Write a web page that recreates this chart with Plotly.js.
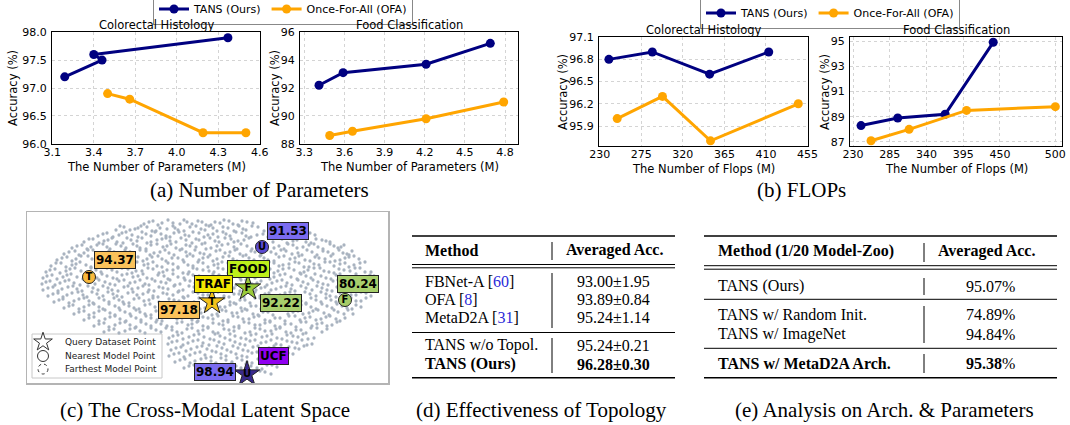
<!DOCTYPE html>
<html><head><meta charset="utf-8">
<script src="https://cdn.plot.ly/plotly-3.0.1.min.js"></script>
<style>html,body{margin:0;padding:0;background:#fff}#chart{width:1070px;height:425px}</style>
</head><body><div id="chart"></div>
<script>
// ---------- (a) Number of parameters ----------
const paramsColorectalTansX = [3.19, 3.46, 3.40, 4.37];
const paramsColorectalTansY = [97.2, 97.5, 97.6, 97.9];
const paramsColorectalOfaX = [3.50, 3.66, 4.19, 4.50];
const paramsColorectalOfaY = [96.9, 96.8, 96.2, 96.2];
const paramsFoodTansX = [3.41, 3.59, 4.21, 4.69];
const paramsFoodTansY = [92.2, 93.1, 93.7, 95.2];
const paramsFoodOfaX = [3.49, 3.66, 4.21, 4.79];
const paramsFoodOfaY = [88.6, 88.9, 89.8, 91.0];
// ---------- (b) FLOPs ----------
const flopsColorectalTansX = [240, 287, 349, 413];
const flopsColorectalTansY = [96.8, 96.9, 96.6, 96.9];
const flopsColorectalOfaX = [249, 298, 350, 445];
const flopsColorectalOfaY = [96.0, 96.3, 95.7, 96.2];
const flopsFoodTansX = [242, 297, 368, 440];
const flopsFoodTansY = [88.3, 88.9, 89.2, 94.9];
const flopsFoodOfaX = [257, 314, 400, 533];
const flopsFoodOfaY = [87.1, 88.0, 89.5, 89.8];
const flopsFoodTickVals = [230, 285, 340, 395, 450, 533];
const flopsFoodTickText = ['230', '285', '340', '395', '450', '500'];
const seriesNames = ['TANS (Ours)', 'Once-For-All (OFA)'];
const panelTitles = ['Colorectal Histology', 'Food Classification', 'Colorectal Histology', 'Food Classification'];

// ---------- (c) latent space (embedding coords) ----------
const cloudPtsA = [
[117,12],[126,9],[135,11],[141,8],[153,12],[160,10],[171,9],[179,13],[188,10],[197,8],[206,12],[215,9],[226,11],
[89,18],[97,15],[108,17],[114,14],[125,19],[133,16],[146,14],[151,18],[163,15],[174,17],[182,14],[190,19],[201,16],[212,14],[219,18],[231,15],[243,17],[250,14],[262,18],
[71,24],[80,21],[92,23],[99,20],[111,25],[119,22],[128,20],[139,24],[147,21],[158,23],[166,20],[177,25],[186,22],[196,20],[203,24],[215,21],[224,25],[236,22],[248,20],[256,24],[268,21],[277,25],[288,23],
[57,30],[66,27],[77,29],[85,26],[96,31],[104,28],[115,26],[124,30],[135,27],[143,29],[154,26],[165,31],[172,28],[183,26],[192,30],[204,27],[211,29],[222,26],[246,30],[255,27],[266,29],[273,26],[284,31],[295,28],[303,30],
[45,36],[55,33],[64,35],[76,32],[83,37],[94,34],[106,32],[113,36],[124,33],[136,35],[144,32],[155,37],[163,34],[175,32],[184,36],[195,33],[207,35],[214,32],[225,37],[252,34],[261,32],[270,36],[282,33],[291,35],[303,32],[311,36],[317,33],
[37,42],[48,39],[57,41],[66,38],[78,43],[87,40],[98,38],[107,42],[119,39],[127,41],[138,38],[147,43],[159,40],[168,38],[177,42],[189,39],[198,41],[208,38],[219,43],[228,40],[240,38],[249,42],[259,39],[271,41],[280,38],[290,43],[301,40],[312,38],[320,42],[325,39],
[30,48],[40,45],[49,47],[61,44],[70,49],[79,46],[91,44],[99,48],[111,45],[120,47],[131,44],[139,49],[151,46],[160,44],[172,48],[181,45],[190,47],[202,44],[210,49],[222,46],[233,44],[241,48],[252,45],[263,47],[272,44],[283,49],[292,46],[304,44],[313,48],[322,45],[332,47],
[24,54],[34,51],[45,53],[53,50],[64,55],[74,52],[86,50],[94,54],[104,51],[117,53],[126,50],[135,55],[146,52],[157,50],[166,54],[176,51],[187,53],[195,50],[206,55],[217,52],[226,50],[238,54],[247,51],[256,53],[268,50],[277,55],[287,52],[298,50],[307,54],[318,51],[327,53],[338,50],
[19,60],[28,57],[39,59],[48,56],[60,61],[69,58],[80,56],[90,60],[101,57],[109,59],[121,56],[132,61],[140,58],[151,56],[162,60],[170,57],[182,59],[191,56],[201,61],[212,58],[220,56],[231,60],[243,57],[251,59],[262,56],[273,61],[281,58],[293,56],[302,60],[312,57],[323,59],[333,56],[344,60],
[16,66],[25,63],[36,65],[44,62],[56,67],[66,64],[75,62],[86,66],[95,63],[106,65],[116,62],[125,67],[137,64],[146,62],[157,66],[166,63],[178,65],[186,62],[197,67],[208,64],[217,62],[228,66],[239,63],[247,65],[258,62],[270,67],[279,64],[288,62],[299,66],[309,63],[318,65],[329,62],[338,67],[347,64],
[15,72],[23,69],[33,71],[42,68],[53,73],[63,70],[72,68],[83,72],[92,69],[103,71],[113,68],[122,73],[134,70],[143,68],[153,72],[163,69],[174,71],[183,68],[194,73],[204,70],[214,68],[225,72],[234,69],[245,71],[255,68],[265,73],[276,70],[286,68],[296,72],[306,69],[315,71],[326,68],[335,73],[344,70],[350,68],
[16,78],[26,75],[35,77],[46,74],[55,79],[66,76],[76,74],[85,78],[97,75],[105,77],[116,74],[127,79],[136,76],[147,74],[156,78],[167,75],[177,77],[187,74],[198,79],[207,76],[218,74],[229,78],[238,75],[249,77],[259,74],[268,79],[279,76],[290,74],[300,78],[310,75],[320,77],[330,74],[340,79],[349,76],
[21,84],[31,81],[40,83],[51,80],[60,85],[70,82],[81,80],[90,84],[101,81],[110,83],[121,80],[131,85],[140,82],[151,80],[161,84],[171,81],[181,83],[191,80],[202,85],[212,82],[222,80],[233,84],[242,81],[253,83],[263,80],[272,85],[283,82],[294,80],[303,84],[313,81],[324,83],[334,80],[344,84],
[27,90],[36,87],[47,89],[57,86],[66,91],[77,88],[87,86],[96,90],[107,87],[117,89],[126,86],[137,91],[147,88],[157,86],[167,90],[176,87],[188,89],[197,86],[207,91],[218,88],[228,86],[238,90],[247,87],[259,89],[268,86],[279,91],[289,88],[299,86],[309,90],[319,87],[329,89],[339,86],
[37,96],[46,93],[57,95],[67,92],[76,97],[88,94],[97,92],[107,96],[118,93],[128,95],[137,92],[148,97],[158,94],[168,92],[178,96],[187,93],[198,95],[209,92],[218,97],[229,94],[239,92],[249,96],[258,93],[270,95],[279,92],[289,97],[300,94],[310,92],[320,96],[329,93],[334,95],
[47,102],[57,99],[67,101],[78,98],[88,103],[98,100],[109,98],[118,102],[129,99],[139,101],[148,98],[159,103],[169,100],[180,98],[190,102],[199,99],[210,101],[220,98],[231,103],[241,100],[250,98],[261,102],[271,99],[282,101],[291,98],[302,103],[311,100],[321,98],[326,102],
[57,108],[67,105],[78,107],[88,104],[99,109],[109,106],[119,104],[130,108],[139,105],[150,107],[160,104],[171,109],[181,106],[191,104],[201,108],[211,105],[222,107],[232,104],[243,109],[253,106],[262,104],[273,108],[283,105],[294,107],[303,104],[313,109],[318,106],
[67,114],[77,111],[88,113],[98,110],[109,115],[119,112],[129,110],[140,114],[150,111],[161,113],[170,110],[181,115],[192,112],[201,110],[212,114],[222,111],[233,113],[243,110],[253,115],[264,112],[274,110],[285,114],[295,111],[305,113],[310,110],
[77,120],[87,117],[98,119],[108,116],[118,121],[129,118],[139,116],[150,120],[160,117],[171,119],[181,116],[191,121],[202,118],[212,116],[223,120],[233,117],[244,119],[253,116],[264,121],[274,118],[284,116],[295,120],[300,117],
[142,126],[151,123],[162,125],[172,122],[183,127],[193,124],[203,122],[214,126],[224,123],[235,125],[245,122],[255,127],[266,124],[276,122],[287,126],
[141,132],[150,129],[161,131],[171,128],[182,133],[192,130],[203,128],[213,132],[223,129],[234,131],[244,128],[254,133],[265,130],[275,128],[285,132],
[144,138],[154,135],[164,137],[175,134],[185,139],[195,136],[206,134],[216,138],[226,135],[237,137],[247,134],[257,139],[268,136],[277,134],
[142,144],[152,141],[163,143],[173,140],[184,145],[194,142],[204,140],[215,144],[225,141],[236,143],[246,140],[256,145],[266,142],
[148,150],[158,147],[168,149],[179,146],[189,151],[199,148],[210,146],[220,150],[231,147],[241,149],[251,146],[257,150],
[157,156],[167,153],[178,155],[188,152],[198,157],[209,154],[219,152],[230,156],[240,153],[250,155],
[170,161],[181,159],[192,163],[204,160],[233,159],[244,162]
];
const cloudPtsB = [
[122,10],[131,13],[146,11],[157,8],[165,12],[175,10],[184,13],[193,11],[202,9],[211,13],[220,10],
[93,14],[103,18],[111,16],[120,15],[129,19],[140,17],[148,16],[157,19],[169,14],[178,18],[186,16],[196,15],[207,19],[216,17],[225,14],[237,19],[246,16],[256,15],
[76,22],[86,25],[95,21],[105,23],[115,20],[124,24],[134,22],[143,25],[152,20],[162,24],[172,21],[181,23],[191,25],[199,22],[209,20],[219,24],[230,23],[241,25],[252,22],[262,20],[272,23],[283,21],
[62,27],[72,31],[81,28],[90,30],[100,26],[110,29],[120,31],[130,28],[139,26],[149,30],[159,28],[169,27],[178,31],[188,29],[198,26],[207,30],[217,28],[250,26],[260,31],[270,28],[279,30],[289,27],[299,29],
[50,34],[60,37],[70,33],[80,35],[89,32],[99,36],[110,34],[119,37],[130,32],[140,34],[149,36],[159,33],[169,35],[179,37],[190,34],[201,32],[210,37],[220,34],[230,33],[247,36],[257,37],[266,33],[276,35],[287,32],[296,37],[307,34],[314,35],
[42,40],[52,43],[61,38],[71,41],[82,39],[92,42],[103,40],[113,38],[123,43],[133,40],[142,41],[153,38],[163,42],[173,41],[183,43],[193,38],[203,40],[213,42],[224,39],[234,43],[244,40],[254,38],[265,42],[275,43],[285,40],[296,39],[306,42],[316,41],[322,43],
[35,46],[45,49],[54,44],[65,47],[75,45],[85,48],[95,46],[105,44],[116,49],[125,45],[135,47],[145,46],[156,48],[166,44],[176,46],[186,49],[196,45],[206,47],[216,44],[227,48],[237,46],[247,49],[257,44],[268,46],[278,48],[288,45],[298,47],[308,49],[318,46],[327,44],
[29,51],[39,55],[49,52],[59,53],[69,50],[79,54],[90,52],[99,55],[110,50],[121,52],[130,54],[141,51],[151,55],[161,53],[171,50],[181,55],[191,52],[201,51],[211,54],[221,55],[232,52],[242,50],[252,54],[262,52],[272,51],[282,55],[292,53],[303,50],[313,52],[322,55],[333,51],
[23,58],[33,61],[43,57],[54,59],[64,56],[74,60],[85,58],[95,56],[105,61],[115,59],[126,57],[136,60],[146,58],[156,61],[166,56],[176,58],[187,60],[196,57],[206,59],[216,61],[226,56],[237,59],[247,61],[256,57],[267,58],[277,60],[287,56],[297,59],[307,61],[317,58],[328,56],[338,60],
[20,64],[30,67],[40,63],[50,65],[61,62],[70,66],[80,64],[90,67],[100,62],[111,64],[120,66],[131,63],[141,67],[151,65],[161,62],[172,64],[182,67],[192,63],[202,65],[213,66],[222,62],[233,64],[243,67],[253,63],[264,65],[274,62],[284,66],[294,64],[304,67],[313,62],[323,65],[333,67],[343,63],
[19,70],[28,73],[38,69],[47,71],[58,68],[68,72],[78,70],[88,73],[97,68],[108,70],[118,72],[128,69],[139,71],[148,73],[158,68],[168,71],[179,69],[189,72],[199,70],[209,73],[219,68],[230,71],[240,73],[250,69],[260,71],[271,68],[281,72],[291,70],[301,73],[311,68],[320,71],[330,73],[340,69],[347,72],
[21,76],[31,79],[41,75],[50,77],[61,74],[71,78],[81,76],[91,79],[101,74],[111,76],[122,78],[132,75],[141,77],[152,79],[162,74],[172,77],[182,75],[192,78],[203,76],[213,79],[223,74],[234,76],[244,78],[254,75],[264,77],[274,74],[285,78],[295,76],[305,79],[315,74],[325,77],[335,75],[345,78],
[26,82],[36,85],[45,81],[56,83],[65,80],[76,84],[86,82],[95,85],[106,80],[116,82],[126,84],[136,81],[146,83],[156,85],[166,80],[176,83],[186,81],[197,84],[207,82],[217,85],[228,80],[238,82],[248,84],[258,81],[268,83],[278,80],[289,84],[299,82],[309,85],[319,80],[329,83],[339,81],
[32,88],[42,91],[52,87],[62,89],[72,86],[82,90],[92,88],[102,91],[112,86],[122,88],[132,90],[142,87],[152,89],[162,91],[172,86],[182,89],[193,87],[203,90],[213,88],[223,91],[233,86],[243,88],[253,90],[264,87],[274,89],[284,86],[294,90],[304,88],[314,91],[324,86],[334,89],
[42,94],[52,97],[62,93],[72,95],[82,92],[92,96],[102,94],[112,97],[123,92],[133,94],[143,96],[153,93],[163,95],[173,97],[183,92],[193,95],[203,93],[214,96],[224,94],[234,97],[244,92],[254,94],[264,96],[274,93],[284,95],[295,92],[305,96],[315,94],[325,97],
[52,100],[62,103],[72,99],[83,101],[93,98],[103,102],[113,100],[124,103],[134,98],[144,100],[154,102],[164,99],[174,101],[185,103],[195,98],[205,101],[215,99],[226,102],[236,100],[246,103],[256,98],[266,100],[276,102],[286,99],[297,101],[307,98],[317,102],
[62,106],[72,109],[83,105],[93,107],[104,104],[114,108],[124,106],[135,109],[145,104],[155,106],[165,108],[176,105],[186,107],[196,109],[206,104],[216,107],[227,105],[238,108],[248,106],[258,109],[268,104],[278,106],[289,108],[299,105],[309,107],
[72,112],[82,115],[93,111],[103,113],[114,110],[124,114],[134,112],[145,115],[155,110],[165,112],[176,114],[186,111],[196,113],[207,115],[217,110],[228,113],[238,111],[248,114],[258,112],[269,115],[279,110],[290,112],[300,114],
[82,118],[92,121],[103,117],[113,119],[124,116],[134,120],[145,118],[155,121],[165,116],[176,118],[186,120],[197,117],[207,119],[218,121],[228,116],[238,119],[249,117],[259,120],[269,118],[279,121],[290,116],
[146,124],[156,127],[167,123],[177,125],[188,122],[198,126],[208,124],[219,127],[229,122],[240,124],[250,126],[260,123],[271,125],[281,127],
[145,130],[156,133],[166,129],[176,131],[187,128],[197,132],[208,130],[218,133],[228,128],[239,130],[249,132],[260,129],[270,131],[280,133],
[149,136],[159,139],[170,135],[180,137],[190,134],[200,138],[211,136],[221,139],[231,134],[242,136],[252,138],[262,135],[272,137],
[147,142],[157,145],[168,141],[178,143],[189,140],[199,144],[209,142],[220,145],[230,140],[241,142],[251,144],[261,141],
[153,148],[163,151],[174,147],[184,149],[194,146],[205,150],[215,148],[225,151],[236,146],[246,148],[254,150],
[162,154],[172,157],[183,153],[193,155],[204,152],[214,156],[224,154],[235,157],[245,153],
[176,163],[187,160],[198,162],[238,160]
];
const queryX = [185, 221, 220];
const queryY = [90, 76, 162];
const queryText = ['T', 'F', 'U'];
const queryColors = ['#f3c21c', '#9acb3a', '#3a2a8c'];
const modelX = [62, 235, 318];
const modelY = [65, 35, 88];
const modelText = ['T', 'U', 'F'];
const modelColors = ['#f9b93c', '#5a4ad2', '#a5cc68'];
const labelText = ['94.37', '91.53', 'FOOD', 'TRAF', '97.18', '92.22', '80.24', 'UCF', '98.94'];
const labelX = [88, 261, 221, 186, 152, 254, 331, 246, 188];
const labelY = [48, 19, 57, 72, 98, 91, 72, 144, 160];
const labelColors = ['#fbc25a', '#7b6cf0', '#bdf01a', '#f3e600', '#fbc25a', '#a8cf6c', '#a8cf6c', '#9000f0', '#7b6cf0'];
const latentLegendText = ['Query Dataset Point', 'Nearest Model Point', 'Farthest Model Point'];

// ---------- (d) and (e) tables ----------
const topoMethods = ['FBNet-A', 'OFA', 'MetaD2A', 'TANS w/o Topol.', 'TANS (Ours)'];
const topoRefs = ['60', '8', '31', '', ''];
const topoAcc = ['93.00±1.95', '93.89±0.84', '95.24±1.14', '95.24±0.21', '96.28±0.30'];
const archMethods = ['TANS (Ours)', 'TANS w/ Random Init.', 'TANS w/ ImageNet', 'TANS w/ MetaD2A Arch.'];
const archAcc = ['95.07', '74.89', '94.84', '95.38'];
const captions = ['(a) Number of Parameters', '(b) FLOPs', '(c) The Cross-Modal Latent Space', '(d) Effectiveness of Topology', '(e) Analysis on Arch. & Parameters'];

// ---------- layout helpers ----------
const W = 1070, H = 425;
const px = v => v / W, py = v => 1 - v / H;
const SANS = 'DejaVu Sans', SERIF = 'Liberation Serif';
const NAVY = '#000080', ORANGE = '#ffa500';

function baseAxis(extra) {
  return Object.assign({
    showline: true, mirror: true, linecolor: '#000', linewidth: 1,
    showgrid: true, gridcolor: '#d4d4d4', griddash: 'dot', gridwidth: 1, zeroline: false,
    ticks: '', tickfont: {family: SANS, size: 11, color: '#000'}
  }, extra);
}
function plotAx(x0, x1, range, extra) { return baseAxis(Object.assign({domain: [px(x0), px(x1)], range: range, ticklabelstandoff: -2}, extra)); }
function plotAy(top, bottom, range, extra) { return baseAxis(Object.assign({domain: [py(bottom), py(top)], range: range, ticklabelstandoff: 2}, extra)); }
function series(x, y, color, xa, ya, name, legend, show) {
  return {x: x, y: y, type: 'scatter', mode: 'lines+markers', name: name, xaxis: xa, yaxis: ya,
    legend: legend, showlegend: show, line: {color: color, width: 3}, marker: {color: color, size: 9}, hoverinfo: 'skip'};
}
const cloudAll = cloudPtsA.concat(cloudPtsB);

const traces = [
  series(paramsColorectalTansX, paramsColorectalTansY, NAVY, 'x', 'y', seriesNames[0], 'legend', true),
  series(paramsColorectalOfaX, paramsColorectalOfaY, ORANGE, 'x', 'y', seriesNames[1], 'legend', true),
  series(paramsFoodTansX, paramsFoodTansY, NAVY, 'x2', 'y2', seriesNames[0], 'legend', false),
  series(paramsFoodOfaX, paramsFoodOfaY, ORANGE, 'x2', 'y2', seriesNames[1], 'legend', false),
  series(flopsColorectalTansX, flopsColorectalTansY, NAVY, 'x3', 'y3', seriesNames[0], 'legend2', true),
  series(flopsColorectalOfaX, flopsColorectalOfaY, ORANGE, 'x3', 'y3', seriesNames[1], 'legend2', true),
  series(flopsFoodTansX, flopsFoodTansY, NAVY, 'x4', 'y4', seriesNames[0], 'legend2', false),
  series(flopsFoodOfaX, flopsFoodOfaY, ORANGE, 'x4', 'y4', seriesNames[1], 'legend2', false),
  {x: cloudAll.map(p => p[0]), y: cloudAll.map(p => p[1]), type: 'scatter', mode: 'markers', xaxis: 'x5', yaxis: 'y5',
    showlegend: false, hoverinfo: 'skip', marker: {color: '#a9b3c0', size: 3.3}},
  {x: modelX, y: modelY, text: modelText, type: 'scatter', mode: 'markers+text', xaxis: 'x5', yaxis: 'y5',
    showlegend: false, hoverinfo: 'skip', textposition: 'middle center',
    textfont: {family: SANS, size: 10, color: '#000', weight: 'bold'},
    marker: {symbol: 'circle', size: 13, color: modelColors, line: {color: '#222', width: 1}}},
  {x: queryX, y: queryY, text: queryText, type: 'scatter', mode: 'markers+text', xaxis: 'x5', yaxis: 'y5',
    showlegend: false, hoverinfo: 'skip', textposition: 'middle center',
    textfont: {family: SANS, size: 10, color: '#000', weight: 'bold'},
    marker: {symbol: 'star', size: 19, color: queryColors, line: {color: '#222', width: 1}}},
  {x: [16], y: [130], type: 'scatter', mode: 'markers', xaxis: 'x5', yaxis: 'y5', showlegend: false, hoverinfo: 'skip',
    marker: {symbol: 'star-open', size: 14, color: '#333', line: {width: 1}}},
  {x: [16], y: [144], type: 'scatter', mode: 'markers', xaxis: 'x5', yaxis: 'y5', showlegend: false, hoverinfo: 'skip',
    marker: {symbol: 'circle-open', size: 11, color: '#333', line: {width: 1}}}
];

const annotations = [];
const shapes = [];
function note(text, x, y, size, family, extra) {
  annotations.push(Object.assign({text: text, x: px(x), y: py(y), xref: 'paper', yref: 'paper', showarrow: false,
    xanchor: 'center', yanchor: 'middle', font: {family: family, size: size, color: '#000'}}, extra || {}));
}
function hline(x0, x1, y, w) {
  shapes.push({type: 'line', xref: 'paper', yref: 'paper', x0: px(x0), x1: px(x1), y0: py(y), y1: py(y), line: {color: '#000', width: w}});
}
function vline(x, y0, y1) {
  shapes.push({type: 'line', xref: 'paper', yref: 'paper', x0: px(x), x1: px(x), y0: py(y0), y1: py(y1), line: {color: '#000', width: 1}});
}

// panel titles and axis titles
note(panelTitles[0], 156, 25, 11.5, SANS);
note(panelTitles[1], 409, 25, 11.5, SANS);
note(panelTitles[2], 703, 30, 11.5, SANS);
note(panelTitles[3], 956, 30, 11.5, SANS);
note('The Number of Parameters (M)', 156, 167, 11.5, SANS);
note('The Number of Parameters (M)', 409, 167, 11.5, SANS);
note('The Number of Flops (M)', 703, 169, 11.5, SANS);
note('The Number of Flops (M)', 956, 169, 11.5, SANS);
note('Accuracy (%)', 13, 88, 11.5, SANS, {textangle: -90});
note('Accuracy (%)', 275, 88, 11.5, SANS, {textangle: -90});
note('Accuracy (%)', 563, 92, 11.5, SANS, {textangle: -90});
note('Accuracy (%)', 825, 92, 11.5, SANS, {textangle: -90});

// captions
note(captions[0], 259, 190, 21, SERIF);
note(captions[1], 801, 190, 21, SERIF);
note(captions[2], 205, 410, 21, SERIF);
note(captions[3], 541, 410, 21, SERIF);
note(captions[4], 884, 410, 21, SERIF);

// latent-space labels
labelText.forEach((t, i) => {
  annotations.push({text: '<b>' + t + '</b>', x: labelX[i], y: labelY[i], xref: 'x5', yref: 'y5', showarrow: false,
    xanchor: 'center', yanchor: 'middle', bgcolor: labelColors[i], bordercolor: '#222', borderwidth: 1, borderpad: 1,
    font: {family: SANS, size: 12, color: '#000'}});
});
// latent legend box
shapes.push({type: 'rect', xref: 'x5', yref: 'y5', x0: 5, x1: 135, y0: 122, y1: 166, layer: 'below',
  fillcolor: '#fff', line: {color: '#c8c8c8', width: 1}});
shapes.push({type: 'circle', xref: 'x5', yref: 'y5', xsizemode: 'pixel', ysizemode: 'pixel', xanchor: 16, yanchor: 157,
  x0: -5, x1: 5, y0: -5, y1: 5, layer: 'below', line: {color: '#333', width: 1, dash: 'dot'}});
latentLegendText.forEach((t, i) => {
  annotations.push({text: t, x: 36, y: [130, 144, 157][i], xref: 'x5', yref: 'y5', showarrow: false,
    xanchor: 'left', yanchor: 'middle', font: {family: SANS, size: 9, color: '#222'}});
});

// table (d)
hline(412, 675, 236, 1.6);
hline(412, 675, 264.5, 1);
hline(412, 675, 267.8, 1);
hline(412, 675, 332.5, 1);
hline(412, 675, 377.7, 1.6);
vline(552, 242, 260);
vline(552, 273, 328);
vline(552, 338, 373);
note('<b>Method</b>', 423, 250, 16, SERIF, {xanchor: 'left'});
note('<b>Averaged Acc.</b>', 614, 250, 16, SERIF);
const topoRowY = [281, 299, 317, 345, 364];
topoMethods.forEach((m, i) => {
  let t = topoRefs[i] ? m + ' [<span style="color:#2a2ad8">' + topoRefs[i] + '</span>]' : m;
  let v = topoAcc[i];
  if (i === topoMethods.length - 1) { t = '<b>' + t + '</b>'; v = '<b>' + v + '</b>'; }
  note(t, 423, topoRowY[i], 16, SERIF, {xanchor: 'left'});
  note(v, 613, topoRowY[i], 16, SERIF);
});

// table (e)
hline(704, 1057, 236, 1.6);
hline(704, 1057, 265.7, 1);
hline(704, 1057, 269.2, 1);
hline(704, 1057, 299.3, 1);
hline(704, 1057, 348.3, 1);
hline(704, 1057, 377.7, 1.6);
vline(924, 243, 262);
vline(924, 278, 295);
vline(924, 306, 343);
vline(924, 354, 373);
note('<b>Method (1/20 Model-Zoo)</b>', 716, 251, 16, SERIF, {xanchor: 'left'});
note('<b>Averaged Acc.</b>', 986, 251, 16, SERIF);
const archRowY = [286, 314, 334, 363];
archMethods.forEach((m, i) => {
  const last = i === archMethods.length - 1;
  note(last ? '<b>' + m + '</b>' : m, 716, archRowY[i], 16, SERIF, {xanchor: 'left'});
  note((last ? '<b>' + archAcc[i] + '</b>' : archAcc[i]) + '%', 990, archRowY[i], 16, SERIF);
});

const layout = {
  width: W, height: H, margin: {l: 0, r: 0, t: 0, b: 0, autoexpand: false},
  paper_bgcolor: '#fff', plot_bgcolor: '#fff', showlegend: true,
  xaxis: plotAx(52, 260, [3.098, 4.602], {tick0: 3.1, dtick: 0.3, tickformat: '.1f', anchor: 'y'}),
  yaxis: plotAy(32, 144, [95.998, 98.002], {tick0: 96, dtick: 0.5, tickformat: '.1f', anchor: 'x'}),
  xaxis2: plotAx(300, 518, [3.268, 4.897], {tick0: 3.3, dtick: 0.3, tickformat: '.1f', anchor: 'y2'}),
  yaxis2: plotAy(32, 144, [87.99, 96.01], {tick0: 88, dtick: 2, anchor: 'x2'}),
  xaxis3: plotAx(599, 808, [229.3, 455.5], {tick0: 230, dtick: 45, anchor: 'y3'}),
  yaxis3: plotAy(37, 146, [95.63, 97.102], {tick0: 95.9, dtick: 0.3, tickformat: '.1f', anchor: 'x3'}),
  xaxis4: plotAx(850, 1062, [225.5, 543], {tickmode: 'array', tickvals: flopsFoodTickVals, ticktext: flopsFoodTickText, anchor: 'y4'}),
  yaxis4: plotAy(37, 146, [86.68, 95.32], {tick0: 87, dtick: 2, anchor: 'x4'}),
  xaxis5: {domain: [px(27), px(388)], range: [0, 361], showline: true, mirror: true, linecolor: '#b4b4b4', linewidth: 1.5,
    showgrid: false, zeroline: false, showticklabels: false, ticks: '', anchor: 'y5'},
  yaxis5: {domain: [py(383), py(212)], range: [171, 0], showline: true, mirror: true, linecolor: '#b4b4b4', linewidth: 1.5,
    showgrid: false, zeroline: false, showticklabels: false, ticks: '', anchor: 'x5'},
  legend: {x: px(153), y: py(9), xanchor: 'left', yanchor: 'middle', orientation: 'h', bgcolor: '#fff',
    bordercolor: '#888', borderwidth: 1, font: {family: SANS, size: 11, color: '#000'}},
  legend2: {x: px(700), y: py(13), xanchor: 'left', yanchor: 'middle', orientation: 'h', bgcolor: '#fff',
    bordercolor: '#888', borderwidth: 1, font: {family: SANS, size: 11, color: '#000'}},
  annotations: annotations, shapes: shapes
};

Plotly.newPlot('chart', traces, layout, {staticPlot: true, displayModeBar: false});
</script></body></html>
